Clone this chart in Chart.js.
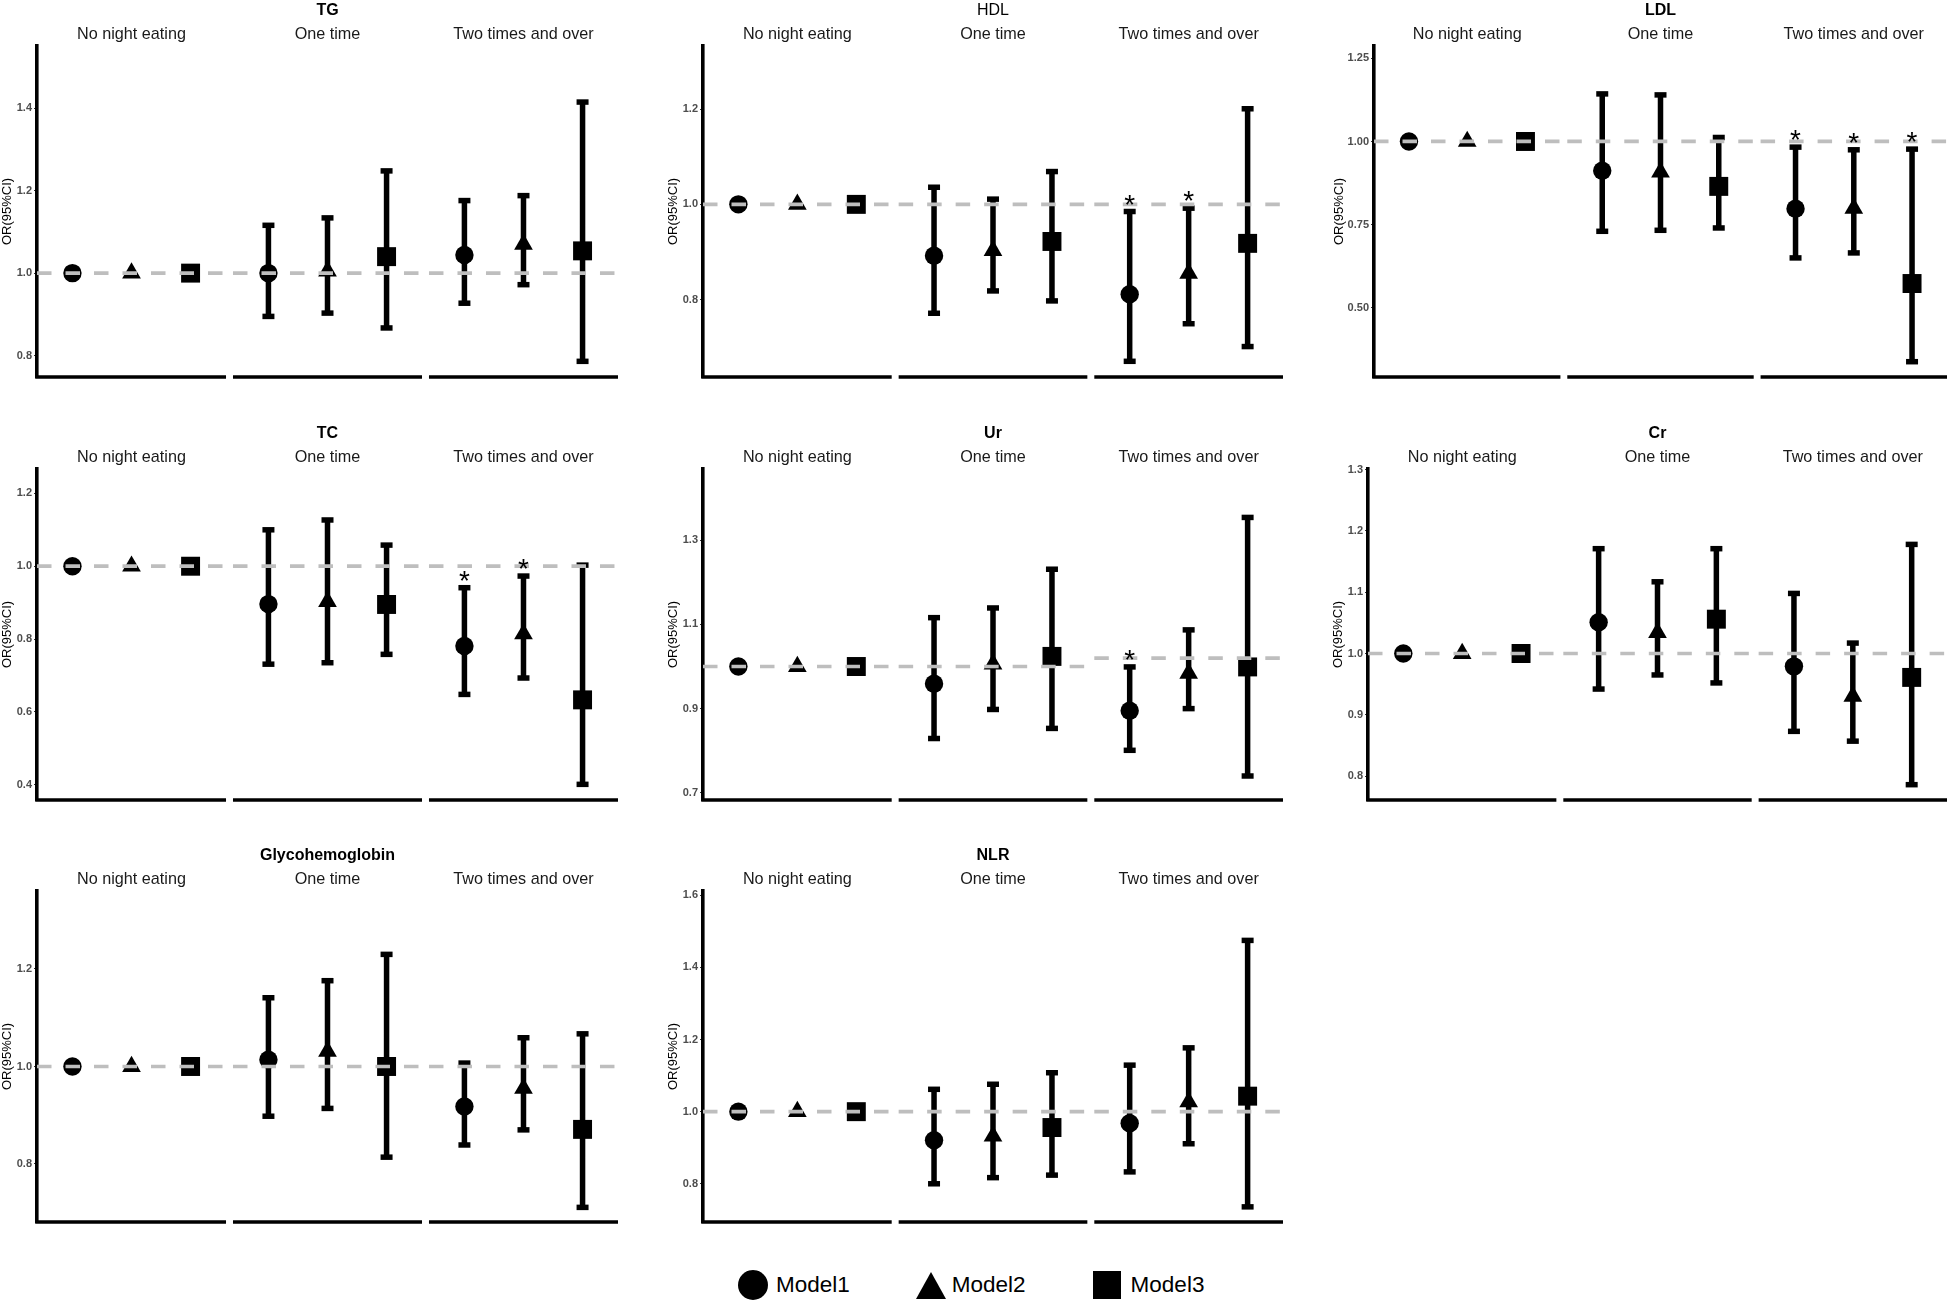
<!DOCTYPE html>
<html>
<head>
<meta charset="utf-8">
<title>Night eating – OR(95%CI) by model</title>
<script src="https://cdn.jsdelivr.net/npm/chart.js@4.4.1/dist/chart.umd.min.js"></script>
<style>
  html, body { margin: 0; padding: 0; background: #fff; }
  body {
    width: 1949px; height: 1300px; position: relative; overflow: hidden;
    font-family: "Liberation Sans", Arial, sans-serif;
  }
  .panel { position: absolute; height: 422px; }
  .panel canvas { display: block; }
  #legend {
    position: absolute; left: 738px; top: 1270px; height: 30px;
    display: flex; align-items: center; font-size: 22.5px; color: #000;
  }
  .item { display: flex; align-items: center; margin-right: 66px; }
  .mk { margin-right: 8px; background: #000; }
  .mk.circle { width: 30px; height: 30px; border-radius: 50%; }
  .mk.rect { width: 28px; height: 28px; margin-left: 1px; margin-right: 10px; }
  .mk.triangle {
    width: 0; height: 0; background: none;
    border-left: 15px solid transparent; border-right: 15px solid transparent;
    border-bottom: 27px solid #000; margin-right: 6px;
  }
</style>
</head>
<body>
<div id="legend"></div>
<script>
/* ============================================
   Night eating frequency vs. blood indices
   ============================================ */

const groups = ['No night eating', 'One time', 'Two times and over'];
const models = ['Model1', 'Model2', 'Model3'];

// values are ordered group by group: [g1 M1, g1 M2, g1 M3, g2 M1, ... g3 M3]
const tgOR   = [1, 1, 1, 1.000, 1.005, 1.040, 1.044, 1.070, 1.054];
const tgLow  = [null, null, null, 0.895, 0.903, 0.867, 0.927, 0.972, 0.786];
const tgHigh = [null, null, null, 1.116, 1.134, 1.248, 1.176, 1.188, 1.415];
const tgSig  = [0, 0, 0, 0, 0, 0, 0, 0, 0];
const tgTicks = ['0.8', '1.0', '1.2', '1.4'];

const hdlOR   = [1, 1, 1, 0.892, 0.903, 0.922, 0.811, 0.855, 0.918];
const hdlLow  = [null, null, null, 0.771, 0.818, 0.797, 0.670, 0.749, 0.701];
const hdlHigh = [null, null, null, 1.036, 1.011, 1.069, 0.985, 0.992, 1.201];
const hdlSig  = [0, 0, 0, 0, 0, 0, 1, 1, 0];
const hdlTicks = ['0.8', '1.0', '1.2'];

const ldlOR   = [1, 1, 1, 0.912, 0.908, 0.865, 0.798, 0.799, 0.573];
const ldlLow  = [null, null, null, 0.730, 0.733, 0.740, 0.650, 0.665, 0.338];
const ldlHigh = [null, null, null, 1.143, 1.140, 1.012, 0.983, 0.975, 0.977];
const ldlSig  = [0, 0, 0, 0, 0, 0, 1, 1, 1];
const ldlTicks = ['0.50', '0.75', '1.00', '1.25'];

const tcOR   = [1, 1, 1, 0.896, 0.903, 0.895, 0.781, 0.814, 0.633];
const tcLow  = [null, null, null, 0.731, 0.735, 0.758, 0.648, 0.693, 0.401];
const tcHigh = [null, null, null, 1.100, 1.127, 1.058, 0.941, 0.973, 1.003];
const tcSig  = [0, 0, 0, 0, 0, 0, 1, 1, 0];
const tcTicks = ['0.4', '0.6', '0.8', '1.0', '1.2'];

const urOR   = [1, 1, 1, 0.959, 1.006, 1.024, 0.895, 0.984, 0.999];
const urLow  = [null, null, null, 0.829, 0.898, 0.853, 0.801, 0.900, 0.740];
const urHigh = [null, null, null, 1.116, 1.139, 1.231, 0.999, 1.087, 1.354];
const urSig  = [0, 0, 0, 0, 0, 0, 1, 0, 0];
const urTicks = ['0.7', '0.9', '1.1', '1.3'];

const crOR   = [1, 1, 1, 1.051, 1.034, 1.056, 0.979, 0.930, 0.961];
const crLow  = [null, null, null, 0.942, 0.965, 0.952, 0.873, 0.857, 0.786];
const crHigh = [null, null, null, 1.171, 1.117, 1.171, 1.098, 1.017, 1.178];
const crSig  = [0, 0, 0, 0, 0, 0, 0, 0, 0];
const crTicks = ['0.8', '0.9', '1.0', '1.1', '1.2', '1.3'];

const glyOR   = [1, 1, 1, 1.014, 1.031, 1.000, 0.918, 0.955, 0.871];
const glyLow  = [null, null, null, 0.898, 0.914, 0.814, 0.839, 0.870, 0.711];
const glyHigh = [null, null, null, 1.141, 1.176, 1.230, 1.007, 1.059, 1.067];
const glySig  = [0, 0, 0, 0, 0, 0, 0, 0, 0];
const glyTicks = ['0.8', '1.0', '1.2'];

const nlrOR   = [1, 1, 1, 0.921, 0.932, 0.956, 0.968, 1.027, 1.043];
const nlrLow  = [null, null, null, 0.800, 0.817, 0.824, 0.833, 0.911, 0.736];
const nlrHigh = [null, null, null, 1.062, 1.076, 1.108, 1.129, 1.177, 1.475];
const nlrSig  = [0, 0, 0, 0, 0, 0, 0, 0, 0];
const nlrTicks = ['0.8', '1.0', '1.2', '1.4', '1.6'];

// reference line per facet (Ur's third facet sits a little higher in the source)
const refLine = [1, 1, 1];
const urRef = [1, 1, 1.02];

const FONT = '"Liberation Sans", Arial, sans-serif';
const G = 3.318;                 // distance between facet starts, in x units
const ROW_TOP = [0, 423, 845];

const panels = [
    { title: 'TG',  bold: true,  or: tgOR,  low: tgLow,  high: tgHigh,  sig: tgSig,  ticks: tgTicks,  ref: refLine, min: 0.748, max: 1.551, row: 0, axisX: 37,   rightX: 618,  yW: 37 },
    { title: 'HDL', bold: false, or: hdlOR, low: hdlLow, high: hdlHigh, sig: hdlSig, ticks: hdlTicks, ref: refLine, min: 0.637, max: 1.333, row: 0, axisX: 703,  rightX: 1283, yW: 37 },
    { title: 'LDL', bold: true,  or: ldlOR, low: ldlLow, high: ldlHigh, sig: ldlSig, ticks: ldlTicks, ref: refLine, min: 0.292, max: 1.287, row: 0, axisX: 1374, rightX: 1947, yW: 42 },
    { title: 'TC',  bold: true,  or: tcOR,  low: tcLow,  high: tcHigh,  sig: tcSig,  ticks: tcTicks,  ref: refLine, min: 0.358, max: 1.267, row: 1, axisX: 37,   rightX: 618,  yW: 37 },
    { title: 'Ur',  bold: true,  or: urOR,  low: urLow,  high: urHigh,  sig: urSig,  ticks: urTicks,  ref: urRef,   min: 0.683, max: 1.469, row: 1, axisX: 703,  rightX: 1283, yW: 37 },
    { title: 'Cr',  bold: true,  or: crOR,  low: crLow,  high: crHigh,  sig: crSig,  ticks: crTicks,  ref: refLine, min: 0.761, max: 1.301, row: 1, axisX: 1368, rightX: 1947, yW: 37 },
    { title: 'Glycohemoglobin', bold: true, or: glyOR, low: glyLow, high: glyHigh, sig: glySig, ticks: glyTicks, ref: refLine, min: 0.681, max: 1.360, row: 2, axisX: 37, rightX: 618, yW: 37 },
    { title: 'NLR', bold: true,  or: nlrOR, low: nlrLow, high: nlrHigh, sig: nlrSig, ticks: nlrTicks, ref: refLine, min: 0.694, max: 1.612, row: 2, axisX: 703,  rightX: 1283, yW: 37 }
];

const markerStyles = ['circle', 'triangle', 'rect'];
const markerRadius = [9.2, 10.8, 13.4];

// x position of item i (group-major order)
function xOf(i) {
    return Math.floor(i / 3) * G + (i % 3) + 1;
}

// broken x axis, facet strip labels and significance stars
const facetPlugin = {
    id: 'facets',
    afterDatasetsDraw(chart, args, opts) {
        const { ctx, chartArea } = chart;
        const xs = chart.scales.x;
        const ys = chart.scales.y;
        const p = opts.panel;
        ctx.save();

        ctx.strokeStyle = '#000';
        ctx.lineWidth = 3.6;
        ctx.lineCap = 'butt';
        ctx.fillStyle = '#1a1a1a';
        ctx.font = `16.2px ${FONT}`;
        ctx.textAlign = 'center';
        ctx.textBaseline = 'middle';
        groups.forEach((label, gi) => {
            const x0 = xs.getPixelForValue(gi * G + 0.4) - (gi === 0 ? 1.8 : 0);
            const x1 = xs.getPixelForValue(gi * G + 3.6);
            ctx.beginPath();
            ctx.moveTo(x0, chartArea.bottom);
            ctx.lineTo(x1, chartArea.bottom);
            ctx.stroke();
            ctx.fillText(label, xs.getPixelForValue(gi * G + 2), chartArea.top - 11);
        });

        ctx.fillStyle = '#000';
        ctx.font = `28px ${FONT}`;
        ctx.textBaseline = 'alphabetic';
        p.sig.forEach((s, i) => {
            if (!s) return;
            ctx.fillText('*', xs.getPixelForValue(xOf(i)), ys.getPixelForValue(p.high[i]) + 2);
        });
        ctx.restore();
    }
};

function buildDatasets(p) {
    const refPts = [];
    p.ref.forEach((v, gi) => {
        refPts.push({ x: gi * G + 0.4, y: v }, { x: gi * G + 3.6, y: v }, { x: gi * G + 3.6, y: null });
    });

    const stems = [];
    const caps = [];
    p.or.forEach((v, i) => {
        if (p.low[i] == null) return;
        stems.push({ x: xOf(i), y: p.low[i] }, { x: xOf(i), y: p.high[i] }, { x: xOf(i), y: null });
        caps.push({ x: xOf(i), y: p.low[i] }, { x: xOf(i), y: p.high[i] });
    });

    const markers = models.map((m, mi) => ({
        type: 'scatter',
        label: m,
        data: groups.map((g, gi) => ({ x: xOf(gi * 3 + mi), y: p.or[gi * 3 + mi] })),
        pointStyle: markerStyles[mi],
        pointRadius: markerRadius[mi],
        pointBackgroundColor: '#000',
        pointBorderWidth: 0,
        order: 1
    }));

    return [
        {
            type: 'line', label: 'ref', data: refPts,
            borderColor: '#bebebe', borderWidth: 3.7, borderDash: [14.5, 14],
            pointRadius: 0, spanGaps: false, order: 0
        },
        ...markers,
        {
            type: 'line', label: 'ci', data: stems,
            borderColor: '#000', borderWidth: 5.5, pointRadius: 0, spanGaps: false, order: 2
        },
        {
            type: 'scatter', label: 'caps', data: caps,
            pointStyle: 'line', pointRadius: 6, pointBorderColor: '#000', pointBorderWidth: 5.5, order: 2
        }
    ];
}

function drawPanel(p) {
    const left = p.axisX - p.yW;
    const box = document.createElement('div');
    box.className = 'panel';
    box.style.left = left + 'px';
    box.style.top = ROW_TOP[p.row] + 'px';
    box.style.width = (p.rightX + 2 - left) + 'px';
    const canvas = document.createElement('canvas');
    box.appendChild(canvas);
    document.body.appendChild(box);

    new Chart(canvas, {
        type: 'scatter',
        data: { datasets: buildDatasets(p) },
        options: {
            responsive: true,
            maintainAspectRatio: false,
            animation: false,
            events: [],
            layout: { autoPadding: false, padding: { top: 0, left: 0, right: 2, bottom: 45 } },
            plugins: {
                legend: { display: false },
                tooltip: { enabled: false },
                title: {
                    display: true, text: p.title, fullSize: false, color: '#000',
                    font: { family: FONT, size: 16, weight: p.bold ? 'bold' : 'normal', lineHeight: 1.2 },
                    padding: { top: 0.5, bottom: 26.3 }
                },
                facets: { panel: p }
            },
            scales: {
                x: { type: 'linear', display: false, min: 0.4, max: 2 * G + 3.6 },
                y: {
                    type: 'linear',
                    min: p.min,
                    max: p.max,
                    afterBuildTicks: s => { s.ticks = p.ticks.map(t => ({ value: parseFloat(t) })); },
                    afterFit: s => { s.width = p.yW; s.paddingTop = 0; s.paddingBottom = 0; },
                    ticks: {
                        autoSkip: false, padding: 2, color: '#4d4d4d',
                        font: { family: FONT, size: 11, weight: 'bold' },
                        callback: (v, i) => p.ticks[i]
                    },
                    grid: { drawOnChartArea: false, drawTicks: true, tickLength: 3, color: '#333', lineWidth: 1 },
                    border: { display: true, color: '#000', width: 3.6 },
                    title: { display: true, text: 'OR(95%CI)', color: '#000', font: { family: FONT, size: 13 }, padding: 0 }
                }
            }
        },
        plugins: [facetPlugin]
    });
}

panels.forEach(drawPanel);

// shared legend
const legend = document.getElementById('legend');
legend.innerHTML = models.map((m, mi) =>
    `<span class="item"><span class="mk ${markerStyles[mi]}"></span>${m}</span>`
).join('');
</script>
</body>
</html>
